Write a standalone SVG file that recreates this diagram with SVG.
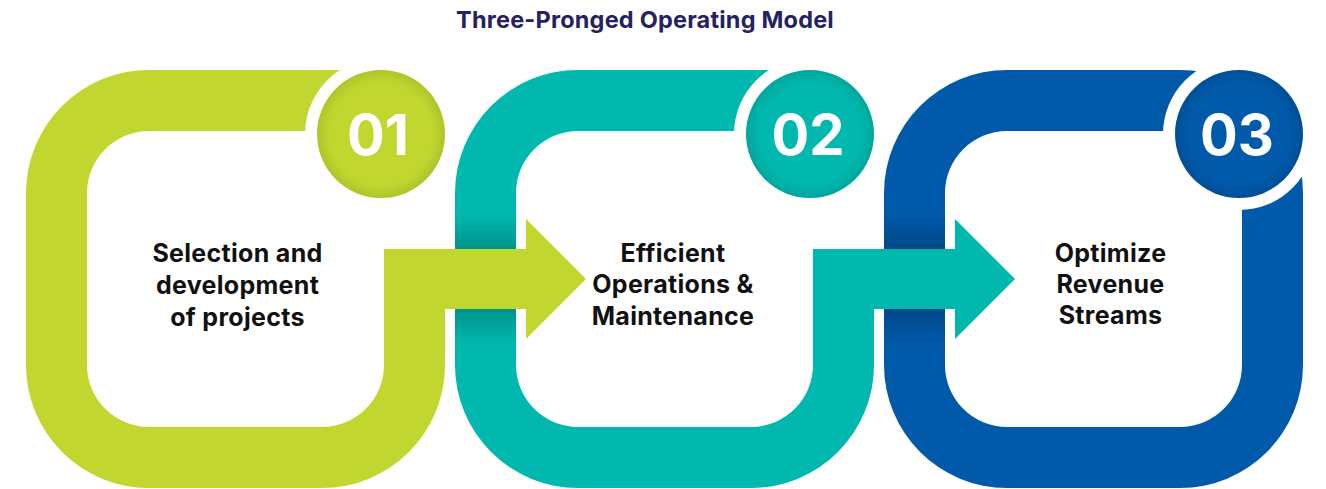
<svg xmlns="http://www.w3.org/2000/svg" width="1326" height="489" viewBox="0 0 1326 489">
  <defs>
    <style>
      .title { font-family: Inter, "Liberation Sans", sans-serif; font-weight: 700; font-size: 23.5px; letter-spacing: 0.2px; fill: #262262; text-anchor: middle; }
      .label { font-family: Inter, "Liberation Sans", sans-serif; font-weight: 700; font-size: 25px; letter-spacing: 0.3px; fill: #111111; text-anchor: middle; }
      .num { font-family: Inter, "Liberation Sans", sans-serif; font-weight: 700; font-size: 56px; fill: #ffffff; text-anchor: middle; }
      .gap { fill: #ffffff; }
    </style>
    <radialGradient id="badgeGreen" cx="0.5" cy="0.5" r="0.5">
      <stop offset="0.8" stop-color="#c1d72f"/>
      <stop offset="1" stop-color="#afc42a"/>
    </radialGradient>
    <radialGradient id="badgeTeal" cx="0.5" cy="0.5" r="0.5">
      <stop offset="0.8" stop-color="#00b8ad"/>
      <stop offset="1" stop-color="#00a69c"/>
    </radialGradient>
    <radialGradient id="badgeBlue" cx="0.5" cy="0.5" r="0.5">
      <stop offset="0.8" stop-color="#005aa9"/>
      <stop offset="1" stop-color="#004e96"/>
    </radialGradient>
    <!-- soft shade where a band passes under the next arrow -->
    <linearGradient id="shadeAbove" x1="0" y1="0" x2="0" y2="1">
      <stop offset="0" stop-color="#000" stop-opacity="0"/>
      <stop offset="1" stop-color="#000" stop-opacity="0.2"/>
    </linearGradient>
    <linearGradient id="shadeBelow" x1="0" y1="0" x2="0" y2="1">
      <stop offset="0" stop-color="#000" stop-opacity="0.2"/>
      <stop offset="1" stop-color="#000" stop-opacity="0"/>
    </linearGradient>
  </defs>

  <rect width="1326" height="489" fill="#ffffff"/>

  <text class="title" x="645" y="28">Three-Pronged Operating Model</text>

  <!-- Step 3: closed ring -->
  <g id="step3">
    <path fill="#005aa9" fill-rule="evenodd"
      d="M884,193 A123,123 0 0 1 1007,70 H1180 A123,123 0 0 1 1303,193 V365 A123,123 0 0 1 1180,488 H1007 A123,123 0 0 1 884,365 Z
         M1007,131 A62,62 0 0 0 945,193 V365 A62,62 0 0 0 1007,427 H1180 A62,62 0 0 0 1242,365 V193 A62,62 0 0 0 1180,131 Z"/>
    <rect x="884" y="214" width="61" height="35" fill="url(#shadeAbove)"/>
    <rect x="884" y="309" width="61" height="35" fill="url(#shadeBelow)"/>
    <circle class="gap" cx="1239" cy="134" r="76"/>
    <circle cx="1239" cy="134" r="64" fill="url(#badgeBlue)"/>
    <text class="num" x="1237" y="154.5">03</text>
    <text class="label" x="1110.5" y="262">Optimize</text>
    <text class="label" x="1110.5" y="293">Revenue</text>
    <text class="label" x="1110.5" y="324">Streams</text>
  </g>

  <!-- Step 2: ring opening into an arrow -->
  <g id="step2">
    <path fill="#00b8ad"
      d="M455,193 A123,123 0 0 1 578,70 H819 V131 H578 A62,62 0 0 0 516,193 V365 A62,62 0 0 0 578,427 H751 A62,62 0 0 0 813,365 V249 H955 V219 L1015,279 L955,339 V309 H874 V365 A123,123 0 0 1 751,488 H578 A123,123 0 0 1 455,365 Z"/>
    <rect x="455" y="214" width="61" height="35" fill="url(#shadeAbove)"/>
    <rect x="455" y="309" width="61" height="35" fill="url(#shadeBelow)"/>
    <circle class="gap" cx="810" cy="134" r="76"/>
    <circle cx="810" cy="134" r="64" fill="url(#badgeTeal)"/>
    <text class="num" x="808" y="154.5">02</text>
    <text class="label" x="673" y="261.5">Efficient</text>
    <text class="label" x="673" y="293">Operations &amp;</text>
    <text class="label" x="673" y="324.5">Maintenance</text>
  </g>

  <!-- Step 1: ring opening into an arrow -->
  <g id="step1">
    <path fill="#c1d72f"
      d="M26,193 A123,123 0 0 1 149,70 H390 V131 H149 A62,62 0 0 0 87,193 V365 A62,62 0 0 0 149,427 H322 A62,62 0 0 0 384,365 V249 H526 V219 L586,279 L526,339 V309 H445 V365 A123,123 0 0 1 322,488 H149 A123,123 0 0 1 26,365 Z"/>
    <circle class="gap" cx="381" cy="134" r="76"/>
    <circle cx="381" cy="134" r="64" fill="url(#badgeGreen)"/>
    <text class="num" x="378" y="154.5">01</text>
    <text class="label" x="237.5" y="262">Selection and</text>
    <text class="label" x="237.5" y="294">development</text>
    <text class="label" x="237.5" y="326">of projects</text>
  </g>

  <g id="connectors"></g>
</svg>
